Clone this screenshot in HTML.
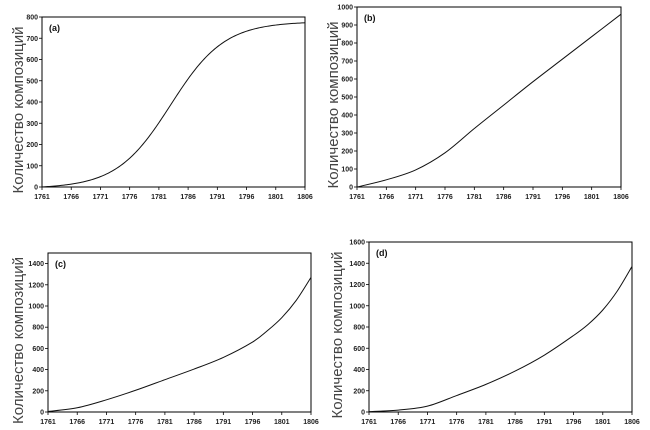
<!DOCTYPE html>
<html><head><meta charset="utf-8"><style>
body{margin:0;background:#fff;width:650px;height:430px;overflow:hidden}
svg{display:block}
text{font-family:"Liberation Sans",sans-serif}
.t{font-size:7px;font-weight:bold;fill:#222}
.lab{font-size:9px;font-weight:bold;fill:#111}
.yl{font-size:15px;fill:#444}
</style></head><body>
<svg id="s" width="650" height="430" xmlns="http://www.w3.org/2000/svg"></svg>
<script>
const S=document.getElementById('s');
const panels=[
 {x0:42,x1:305,y0:17,y1:187,ymax:800,step:100,lab:'(a)',ylx:18,
  f:t=>{const y=1761+5*t;return 778/(1+Math.exp(-(y-1783)/4.6))-6*(1-t/9);}},
 {x0:357,x1:621,y0:7,y1:187,ymax:1000,step:100,lab:'(b)',ylx:333,
  d:[[0,0],[1,40],[2,95],[3,190],[4,325],[5,455],[6,585],[7,710],[8,835],[9,960]]},
 {x0:48,x1:311,y0:253,y1:412,ymax:1500,step:200,lab:'(c)',ylx:18,
  d:[[0,5],[1,40],[2,115],[3,205],[4,305],[5,405],[6,515],[7,660],[7.5,765],[8,890],[8.5,1055],[9,1270]]},
 {x0:369,x1:632,y0:242,y1:412,ymax:1600,step:200,lab:'(d)',ylx:337,
  d:[[0,3],[1,18],[2,55],[3,155],[4,260],[5,385],[6,535],[7,720],[7.5,825],[8,960],[8.5,1140],[9,1370]]}
];
let h='';
for(const p of panels){
 const W=p.x1-p.x0,H=p.y1-p.y0;
 const X=i=>p.x0+W*i/9, Y=v=>p.y1-H*v/p.ymax;
 h+=`<rect x="${p.x0}" y="${p.y0}" width="${W}" height="${H}" fill="none" stroke="#000" stroke-width="1"/>`;
 for(let v=0;v<=p.ymax;v+=p.step){const y=Y(v);
  h+=`<line x1="${p.x0-3}" x2="${p.x0}" y1="${y}" y2="${y}" stroke="#000" stroke-width="0.8"/>`;
  h+=`<text class="t" x="${p.x0-4}" y="${y+2.5}" text-anchor="end">${v}</text>`;}
 for(let i=0;i<10;i++){const x=X(i);
  h+=`<line x1="${x}" x2="${x}" y1="${p.y1}" y2="${p.y1+3}" stroke="#000" stroke-width="0.8"/>`;
  h+=`<text class="t" x="${x}" y="${p.y1+12}" text-anchor="middle">${1761+5*i}</text>`;}
 h+=`<text class="lab" x="${p.x0+7}" y="${p.y0+14}">${p.lab}</text>`;
 const cy=(p.y0+p.y1)/2+8;
 h+=`<text class="yl" transform="translate(${p.ylx+5},${cy}) rotate(-90)" text-anchor="middle">Количество композиций</text>`;
 let path='';
 if(p.f){
  for(let k=0;k<=180;k++){const t=k/20;path+=(k?' L':'M')+X(t).toFixed(2)+','+Y(p.f(t)).toFixed(2);}
 } else {
  const pts=p.d.map(([t,v])=>[X(t),Y(v)]);
  path=`M${pts[0][0]},${pts[0][1]}`;
  for(let i=0;i<pts.length-1;i++){
   const p0=pts[Math.max(0,i-1)],p1=pts[i],p2=pts[i+1],p3=pts[Math.min(pts.length-1,i+2)];
   const c1=[p1[0]+(p2[0]-p0[0])/6,p1[1]+(p2[1]-p0[1])/6];
   const c2=[p2[0]-(p3[0]-p1[0])/6,p2[1]-(p3[1]-p1[1])/6];
   path+=` C${c1[0]},${c1[1]} ${c2[0]},${c2[1]} ${p2[0]},${p2[1]}`;
  }
 }
 h+=`<path d="${path}" fill="none" stroke="#111" stroke-width="1"/>`;
}
S.innerHTML=h;
</script>
</body></html>
